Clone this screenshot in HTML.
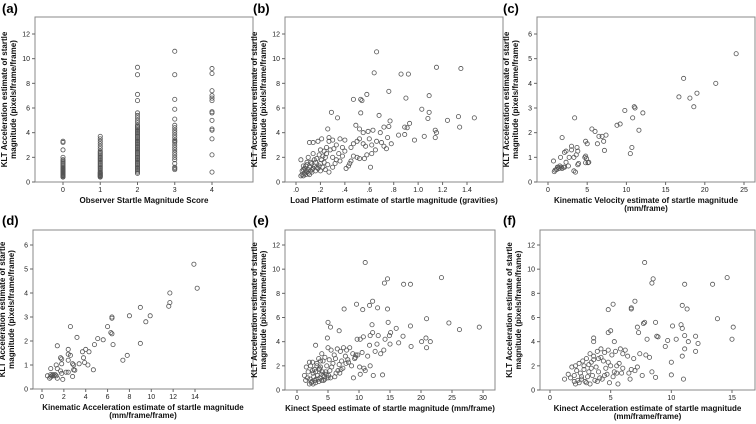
<!DOCTYPE html>
<html><head><meta charset="utf-8"><style>
html,body{margin:0;padding:0;background:#fff;}
svg{display:block;font-family:"Liberation Sans",Arial,sans-serif;}
</style></head><body>
<svg id="fig" width="756" height="424" viewBox="0 0 756 424"></svg>
<script>
// ---- data ----
const aCats=[0,1,2,3,4];
const a0=[0.4,0.45,0.5,0.55,0.6,0.65,0.7,0.75,0.8,0.85,0.9,0.95,1.0,1.05,1.1,1.2,1.3,1.4,1.5,1.6,1.7,1.8,2.0,2.6,3.2,3.3];
const a1=[0.4,0.45,0.5,0.55,0.6,0.65,0.7,0.75,0.8,0.9,1.0,1.1,1.2,1.3,1.4,1.5,1.6,1.7,1.8,1.9,2.0,2.1,2.2,2.3,2.4,2.5,2.7,2.9,3.1,3.3,3.5,3.7];
const a2=[0.7,0.8,0.9,1.0,1.1,1.2,1.3,1.4,1.5,1.6,1.7,1.8,1.9,2.0,2.1,2.2,2.3,2.4,2.5,2.6,2.7,2.8,2.9,3.0,3.1,3.2,3.3,3.4,3.5,3.6,3.7,3.8,3.9,4.0,4.1,4.2,4.3,4.4,4.5,4.6,4.8,5.0,5.2,5.4,5.6,6.6,7.1,8.7,9.3];
const a3=[1.0,1.1,1.2,1.5,1.8,2.0,2.2,2.4,2.6,2.8,3.0,3.2,3.3,3.4,3.6,3.8,4.0,4.2,4.4,4.6,5.1,5.9,6.7,8.7,10.6];
const a4=[0.8,2.2,3.5,4.2,4.3,5.0,5.6,5.7,6.6,6.8,7.0,7.4,8.8,9.2];

const bX=[0.66,1.15,1.35,0.64,0.86,0.92,0.76,0.58,1.09,0.9,0.47,0.53,0.54,1.03,0.29,1.09,0.53,0.68,0.34,1.08,1.46,1.33,1.24,0.77,0.93,0.76,0.49,1.34,0.89,0.91,0.72,0.26,0.52,1.14,0.63,0.59,0.55,0.69,1.15,0.84,0.89,0.78,0.97,1.05,1.14,0.75,0.61,0.41,0.44,
0.3,0.36,0.4,0.27,0.27,0.33,0.38,0.4,0.45,0.47,0.5,0.52,0.55,0.57,0.6,0.62,0.65,0.66,0.7,0.72,0.74,0.62,0.58,0.5,0.47,0.45,0.52,0.56,0.43,0.38,0.35,0.33,0.3,0.28,0.25,0.23,0.24,0.21,0.2,0.22,0.19,0.17,0.16,0.15,0.14,0.13,0.12,0.11,0.1,0.09,0.08,0.07,0.06,0.05,0.04,0.06,0.08,0.1,0.12,0.1,0.09,0.07,0.05,0.04,0.11,0.14,0.18,0.21,0.14,0.16,0.18,0.2,0.24,0.27,0.3,0.32,0.36,0.13,0.09,0.15,0.23,0.26,0.19,0.17,0.13,0.11,0.08,0.06,0.2,0.25,0.31,0.22];
const bY=[10.55,9.3,9.2,8.85,8.75,8.75,7.35,7.1,7.0,6.8,6.7,6.7,6.6,5.9,5.65,5.65,5.6,5.4,5.2,5.15,5.2,5.3,5.0,4.95,4.75,4.5,4.6,4.45,4.45,4.4,4.45,4.3,4.3,4.2,4.2,4.1,4.0,4.0,4.0,3.8,3.85,3.1,3.4,3.7,3.6,3.6,1.2,1.1,1.5,
3.4,3.5,3.4,3.6,3.3,3.0,2.8,2.5,2.8,3.1,3.3,3.5,3.1,2.9,3.5,3.0,2.6,3.3,3.2,2.9,2.7,2.3,2.2,2.0,2.1,1.7,1.9,1.9,1.3,2.1,2.3,1.8,2.0,2.6,2.3,2.5,2.0,1.8,1.5,1.2,2.2,1.9,1.6,1.3,1.1,1.5,0.9,1.2,1.0,0.8,1.3,0.7,1.0,0.6,0.5,0.5,0.6,0.7,1.6,2.0,1.4,1.1,0.9,1.8,3.2,3.2,3.3,3.5,2.3,0.9,1.1,0.9,1.0,0.8,1.2,1.5,1.7,0.8,1.6,1.8,1.6,1.4,1.3,1.2,1.0,0.6,0.9,1.3,2.6,2.8,2.7,2.1];

const cX=[24,17.3,21.4,19,16.7,18.1,18.6,11,11.1,9.8,12.1,10.8,3.4,9.2,8.8,5.6,11.6,6,7.4,6.5,6.9,1.8,7.1,4.8,5,6.3,3,3.7,10.7,3,7.2,3.8,2.3,2.1,10.5,3.6,4.8,4.7,3.3,2.7,1.6,4.9,0.7,2.3,3.9,4.8,5.1,5.2,3.8,2.6,1.5,1.2,1.7,2.0,1.4,1.8,1.1,0.9,0.8,3.3,3.5,2.1,1.3];
const cY=[5.2,4.2,4.0,3.6,3.45,3.4,3.05,3.05,3.0,2.9,2.8,2.6,2.6,2.35,2.3,2.15,2.1,2.05,1.9,1.85,1.85,1.8,1.65,1.65,1.55,1.55,1.45,1.4,1.4,1.3,1.28,1.25,1.25,1.2,1.15,1.1,1.05,1.0,1.0,1.0,1.0,0.95,0.85,0.8,0.75,0.78,0.78,0.8,0.7,0.65,0.65,0.6,0.6,0.6,0.55,0.55,0.5,0.48,0.42,0.45,0.4,0.6,0.6];

const dX=[13.9,14.2,11.7,11.7,11.6,9,9.9,8,6.4,6.4,9.5,2.6,6,6.3,6.4,3.2,5.1,5.6,9,6.5,4.8,1.4,4,2.4,3.7,4.3,2.4,2.6,7.8,1.7,3.8,1.8,2.4,7.4,3.9,4.2,3.4,2.8,2.9,1.8,1.3,0.8,1.4,4.7,2.9,3.0,1.7,2.2,2.4,1.8,0.8,1.0,1.2,1.3,0.9,1.1,0.5,2.8,0.8,1.4,0.7,1.9];
const dY=[5.2,4.2,4.0,3.6,3.45,3.4,3.05,3.05,3.0,2.95,2.8,2.6,2.6,2.35,2.3,2.15,2.1,2.05,1.9,1.85,1.85,1.8,1.65,1.65,1.55,1.55,1.45,1.4,1.4,1.3,1.3,1.25,1.2,1.2,1.1,1.0,1.05,1.05,1.0,1.05,1.0,0.85,0.85,0.8,0.8,0.78,0.75,0.7,0.7,0.65,0.6,0.6,0.6,0.55,0.55,0.55,0.55,0.52,0.5,0.45,0.45,0.4];

const eX=[11,23.3,14.6,14.1,17.2,18.3,12.2,9.6,11.7,13,7.6,10.6,14.6,20.9,5,14.7,24.5,5.4,12.1,18.3,29.4,26.2,16,6.8,15.1,12.2,17.1,14.9,11.8,13.1,10.7,4.9,9.7,10.2,20.8,20.1,21.5,14.2,16.4,15,12.9,11.7,18.4,20.9,14,13.8,12.3,9.1,10.2,11,11.8,
8.5,9,9.5,8,7.5,7,6.5,6,5.5,5,4.5,4,3.5,3,2.5,2,1.5,1.2,8.2,7.8,7.2,6.8,6.2,5.8,5.2,4.8,4.2,3.8,3.2,2.8,2.2,1.8,9.8,10.5,11.4,12.6,13.5,8.8,7.4,6.6,5.6,4.6,3.6,2.6,3.3,3.7,4.1,4.4,3.1,2.9,2.4,2.7,3.4,3.9,4.3,5.1,5.4,6.3,7.1,8.3,9.3,10.1,2.3,2.6,3.0,3.5,4.0,4.5,5.0,3.2,3.8,2.1,1.7,6.9,7.9,9.4,10.8,2.5,3.6,4.7,5.3,6.1,2.0,1.4,3.0,4.2];
const eY=[10.55,9.3,9.2,8.85,8.75,8.75,7.35,7.1,7.0,6.8,6.7,6.65,6.7,5.9,5.6,5.6,5.55,5.2,5.4,5.3,5.2,5.0,5.1,4.9,4.75,4.75,4.45,4.5,4.5,4.5,4.4,4.3,4.2,4.2,4.3,4.0,4.0,4.2,3.9,3.8,3.8,3.7,3.6,3.5,3.3,1.25,1.2,1.0,1.3,1.6,2.0,
3.5,3.0,2.9,3.3,3.5,3.2,3.4,2.9,3.3,3.5,2.7,3.0,2.6,3.7,2.3,2.3,1.9,1.2,2.5,2.8,2.4,2.1,2.6,2.2,2.5,2.0,2.4,1.9,2.2,1.7,2.0,1.5,2.9,3.1,2.8,3.2,3.0,2.0,1.8,1.6,1.9,1.5,1.8,1.4,1.2,1.0,1.5,1.1,0.9,0.8,0.7,1.1,0.9,1.3,0.8,1.2,1.0,1.4,1.7,2.3,2.6,1.9,0.6,0.5,0.6,0.7,0.8,0.9,1.0,2.0,2.4,0.9,1.0,1.4,2.2,2.7,1.8,1.6,1.7,1.3,1.6,1.1,0.5,0.8,1.5,1.2];

const fX=[7.8,14.6,8.5,8.4,11.1,13.4,7,5.2,10.9,6.7,6.7,4.8,11.3,13.8,7.8,8.7,7.7,10.8,10.1,15.1,7.2,10.9,5,4.8,7.3,11.1,12,8.8,8.9,9.7,15,8,3.6,3.6,5.3,11.4,12.2,10.4,9.5,11.1,12,10.9,10,10,11,8.7,8.4,7.6,6.5,5.5,
6.2,6.0,5.8,5.4,5.1,4.8,4.5,4.2,3.9,3.6,3.3,3.0,2.7,2.4,2.1,1.8,1.5,1.2,6.4,6.9,7.4,7.9,8.2,5.7,5.0,4.4,4.0,3.4,2.8,2.2,3.8,4.6,5.3,6.0,6.7,7.2,3.2,2.5,2.0,1.7,3.1,3.5,4.1,4.7,5.2,5.9,2.3,2.6,2.9,3.7,4.3,4.9,3.0,3.3,3.9,2.1,2.4,4.0,4.5,5.6,6.6,7.0,3.6,3.2,2.8,4.2,4.8,5.5,2.6,2.0,3.4];
const fY=[10.55,9.3,9.2,8.85,8.75,8.75,7.35,7.1,7.0,6.8,6.7,6.65,6.7,5.9,5.6,5.6,5.5,5.4,5.3,5.2,5.2,5.1,4.9,4.75,4.75,4.5,4.45,4.45,4.4,4.1,4.2,4.2,4.3,4.0,4.0,4.0,3.85,4.2,3.6,3.4,3.2,2.8,2.3,1.25,0.9,1.05,1.5,1.2,1.4,1.4,
3.3,3.0,3.4,3.2,2.9,3.3,3.1,3.4,3.2,2.8,3.0,2.6,2.4,2.2,2.0,1.9,1.3,0.9,2.8,2.6,3.0,2.9,2.7,2.2,2.0,2.4,2.6,2.3,2.0,1.6,1.9,1.8,1.5,1.8,1.7,1.9,1.5,1.4,1.2,1.0,1.1,1.2,1.0,1.3,1.1,1.4,0.8,0.9,0.7,0.8,0.9,0.6,0.6,0.5,0.7,0.5,0.6,1.5,1.2,0.5,0.9,1.6,2.5,2.1,1.7,2.7,2.3,2.0,1.1,0.7,1.8];

const ticksA=["0","1","2","3","4"];
const ticksB=[".0",".2",".4",".6",".8","1.0","1.2","1.4"];

// ---- drawing ----
const NS="http://www.w3.org/2000/svg";
const svg=document.getElementById('fig');
function mk(tag,attrs,parent){const e=document.createElementNS(NS,tag);for(const k in attrs)e.setAttribute(k,attrs[k]);(parent||svg).appendChild(e);return e;}

function panel(p){
  const g=mk('g',{});
  
  
  const sx=v=>p.x0+(v-p.xmin)/(p.xmax-p.xmin)*(p.x1-p.x0);
  const sy=v=>p.y0+(v-p.ymin)/(p.ymax-p.ymin)*(p.y1-p.y0);
  const lbl=mk('text',{x:p.lx,y:p.ly,'font-size':13,'font-weight':'bold',fill:'#000'},g);
  lbl.textContent='('+p.id+')';
  
  
  const box=mk('rect',{x:p.L,y:p.T,width:p.R-p.L,height:p.B-p.T,fill:'none',stroke:'#888','stroke-width':1},g);
  
  
  for(let v=p.ymin;v<=p.ymaxT;v+=p.ystep){
    const y=sy(v);
    mk('line',{x1:p.L-3,x2:p.L,y1:y,y2:y,stroke:'#666'},g);
    const t=mk('text',{x:p.L-5,y:y+2.5,'font-size':7,'text-anchor':'end',fill:'#222'},g);
    t.textContent=String(v);
    
    
  }
  p.xt.forEach((s,i)=>{
    const v=p.xtv[i];const x=sx(v);
    mk('line',{x1:x,x2:x,y1:p.B,y2:p.B+3,stroke:'#666'},g);
    const t=mk('text',{x:x,y:p.B+10,'font-size':7,'text-anchor':'middle',fill:'#222'},g);
    t.textContent=s;
    
    
  });
  const cy=(p.T+p.B)/2;
  const yt=mk('text',{transform:`translate(${p.L-24},${cy}) rotate(-90)`,'font-size':8,'font-weight':'bold','text-anchor':'middle',fill:'#111'},g);
  
  
  const t1=mk('tspan',{x:0,dy:-4},yt);t1.textContent='KLT Acceleration estimate of startle';
  const t2=mk('tspan',{x:0,dy:9},yt);t2.textContent='magnitude (pixels/frame/frame)';
  const xt=mk('text',{x:(p.L+p.R)/2,y:p.B+21,'font-size':8,'font-weight':'bold','text-anchor':'middle',fill:'#111'},g);
  
  
  p.xtitle.forEach((s,i)=>{const ts=mk('tspan',{x:(p.L+p.R)/2,dy:i?8:0},xt);ts.textContent=s;});
  for(let i=0;i<p.xs.length;i++){
    const c=mk('circle',{cx:sx(p.xs[i]),cy:sy(p.ys[i]),r:2.1,fill:'none',stroke:'#555','stroke-width':0.8},g);
    
    
  }
}

const aXs=[],aYs=[];
[a0,a1,a2,a3,a4].forEach((arr,i)=>arr.forEach(v=>{aXs.push(aCats[i]);aYs.push(v);}));

panel({id:'a',lx:2,ly:13,L:35,R:253,T:17,B:182,x0:63,x1:212,xmin:0,xmax:4,y0:182,y1:34,ymin:0,ymax:12,ymaxT:12,ystep:2,
  xt:ticksA,xtv:[0,1,2,3,4],xtitle:['Observer Startle Magnitude Score'],xs:aXs,ys:aYs});
panel({id:'b',lx:253,ly:13,L:285,R:503,T:17,B:182,x0:296,x1:467,xmin:0,xmax:1.4,y0:182,y1:34,ymin:0,ymax:12,ymaxT:12,ystep:2,
  xt:ticksB,xtv:[0,0.2,0.4,0.6,0.8,1.0,1.2,1.4],xtitle:['Load Platform estimate of startle magnitude (gravities)'],xs:bX,ys:bY});
panel({id:'c',lx:503,ly:13,L:537,R:755,T:17,B:182,x0:548,x1:744,xmin:0,xmax:25,y0:182,y1:34,ymin:0,ymax:6,ymaxT:6,ystep:1,
  xt:["0","5","10","15","20","25"],xtv:[0,5,10,15,20,25],xtitle:['Kinematic Velocity estimate of startle magnitude','(mm/frame)'],xs:cX,ys:cY});
panel({id:'d',lx:2,ly:225,L:33,R:253,T:230,B:389,x0:42,x1:195,xmin:0,xmax:14,y0:389,y1:245,ymin:0,ymax:6,ymaxT:6,ystep:1,
  xt:["0","2","4","6","8","10","12","14"],xtv:[0,2,4,6,8,10,12,14],xtitle:['Kinematic Acceleration estimate of startle magnitude','(mm/frame/frame)'],xs:dX,ys:dY});
panel({id:'e',lx:253,ly:225,L:285,R:495,T:230,B:390,x0:297,x1:483,xmin:0,xmax:30,y0:390,y1:245,ymin:0,ymax:12,ymaxT:12,ystep:2,
  xt:["0","5","10","15","20","25","30"],xtv:[0,5,10,15,20,25,30],xtitle:['Kinect Speed estimate of startle magnitude (mm/frame)'],xs:eX,ys:eY});
panel({id:'f',lx:503,ly:225,L:540,R:755,T:230,B:390,x0:550,x1:732,xmin:0,xmax:15,y0:390,y1:245,ymin:0,ymax:12,ymaxT:12,ystep:2,
  xt:["0","5","10","15"],xtv:[0,5,10,15],xtitle:['Kinect Acceleration estimate of startle magnitude','(mm/frame/frame)'],xs:fX,ys:fY});
</script>
</body></html>
